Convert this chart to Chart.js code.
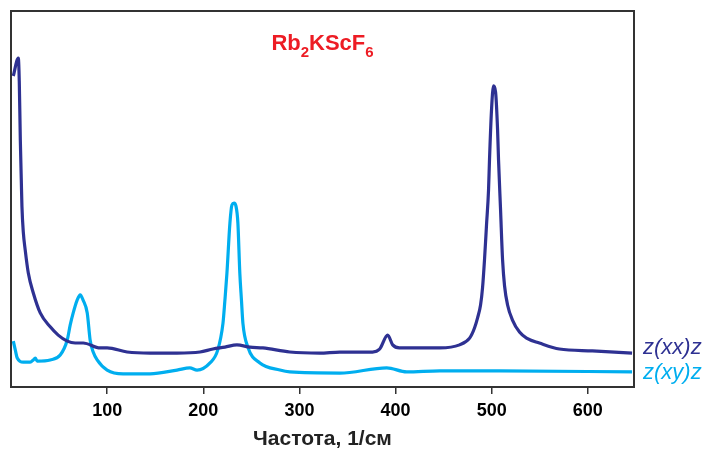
<!DOCTYPE html>
<html>
<head>
<meta charset="utf-8">
<script src="https://cdn.jsdelivr.net/npm/chart.js@4"></script>
<style>
  body { margin: 0; background: #fff; }
</style>
</head>
<body>
<canvas id="ramanChart" width="704" height="452"></canvas>
<script>
// Raman spectrum Rb2KScF6, two polarisations (intensity in arbitrary units 0..100)
const xxShift = [2.4, 7.6, 8.6, 9.7, 10.7, 11.4, 12.8, 14.8, 18, 23.2, 30.4, 40.8, 49.1, 58.5, 66.8, 75.1, 92.7, 100, 120.8, 144.6, 172.7, 196.6, 210, 222.5, 235, 248.5, 262, 290, 321, 342, 376, 383.5, 391.8, 397, 404, 425, 446, 466.6, 477, 482.1, 485.3, 488.4, 490.5, 492.5, 494.6, 496.7, 497.7, 499.8, 501.9, 504, 506.1, 507.1, 509.2, 511.3, 513.4, 516.5, 521.6, 528.9, 536.2, 549.6, 570.4, 604.7, 646];
const xxIntensity = [82.7, 87.5, 81.4, 65.7, 55.1, 47.9, 41.2, 36.4, 30.3, 25.0, 19.7, 16.0, 13.8, 12.2, 11.7, 11.7, 10.4, 10.4, 9.3, 9.0, 9.0, 9.3, 10.1, 10.6, 11.2, 10.6, 10.4, 9.3, 9.0, 9.3, 9.3, 10.1, 13.8, 11.2, 10.4, 10.4, 10.4, 11.2, 13.0, 15.7, 18.4, 21.8, 26.5, 33.8, 43.1, 52.4, 60.4, 73.7, 80.1, 78.5, 68.4, 60.4, 47.1, 33.8, 26.8, 21.8, 17.8, 14.6, 13.0, 11.7, 10.1, 9.6, 9.0];

const xyShift = [2.4, 4.5, 6.5, 12.8, 20, 23.2, 25.2, 27.3, 40.8, 51.2, 58.5, 61.6, 64.7, 68.8, 72, 75, 79.3, 82.3, 85.5, 89.6, 100, 116.6, 144.6, 172.7, 186, 193.5, 207, 215, 220.5, 222.5, 224.6, 227.7, 229.8, 232, 234, 236, 238, 239.7, 241.2, 246.4, 258.9, 279.7, 290, 342, 390.8, 411.5, 446, 508, 646];
const xyIntensity = [12.2, 9.8, 7.7, 6.6, 6.6, 7.2, 7.7, 6.9, 7.2, 8.5, 12.5, 16.5, 19.7, 23.1, 24.5, 23.1, 19.7, 12.5, 9.3, 7.2, 4.5, 3.5, 3.5, 4.5, 5.1, 4.5, 6.4, 9.8, 17.0, 23.1, 30.3, 43.6, 48.4, 48.9, 48.1, 43.6, 30.3, 23.1, 17.0, 10.6, 6.4, 4.5, 4.0, 3.7, 5.1, 4.0, 4.3, 4.3, 4.0];

const xTicks = [100, 200, 300, 400, 500, 600];

const seriesLabels = ['z(xx)z', 'z(xy)z'];
const seriesColors = ['#2e3192', '#00aeef'];

const FONT = "'Liberation Sans', Arial, sans-serif";

function toPoints(xs, ys) {
    return xs.map((x, i) => ({ x: x, y: ys[i] }));
}

// frame, title with subscripts, series labels on the right
const decorations = {
    id: 'decorations',
    afterDraw(chart) {
        const ctx = chart.ctx;
        const area = chart.chartArea;
        const yScale = chart.scales.y;
        ctx.save();
        ctx.strokeStyle = '#333';
        ctx.lineWidth = 2;
        ctx.strokeRect(area.left, area.top, area.right - area.left, area.bottom - area.top);

        // title Rb2KScF6
        const parts = [['Rb', false], ['2', true], ['KScF', false], ['6', true]];
        const big = 'bold 22px ' + FONT;
        const small = 'bold 15px ' + FONT;
        let total = 0;
        parts.forEach(p => { ctx.font = p[1] ? small : big; total += ctx.measureText(p[0]).width; });
        let x = (area.left + area.right) / 2 - total / 2;
        ctx.fillStyle = '#ed1c24';
        ctx.textBaseline = 'alphabetic';
        ctx.textAlign = 'left';
        parts.forEach(p => {
            ctx.font = p[1] ? small : big;
            ctx.fillText(p[0], x, p[1] ? 57 : 50);
            x += ctx.measureText(p[0]).width;
        });

        // series labels
        ctx.font = 'italic 22px ' + FONT;
        ctx.textBaseline = 'middle';
        chart.data.datasets.forEach((ds, i) => {
            const last = ds.data[ds.data.length - 1];
            const y = yScale.getPixelForValue(last.y) + (i === 0 ? -5 : 1);
            ctx.fillStyle = seriesColors[i];
            ctx.fillText(seriesLabels[i], area.right + 9, y);
        });
        ctx.restore();
    }
};

new Chart(document.getElementById('ramanChart'), {
    type: 'line',
    data: {
        datasets: [{
            label: seriesLabels[0],
            data: toPoints(xxShift, xxIntensity),
            borderColor: seriesColors[0],
            borderWidth: 3.2,
            pointRadius: 0,
            cubicInterpolationMode: 'monotone'
        }, {
            label: seriesLabels[1],
            data: toPoints(xyShift, xyIntensity),
            borderColor: seriesColors[1],
            borderWidth: 3.2,
            pointRadius: 0,
            cubicInterpolationMode: 'monotone'
        }]
    },
    options: {
        responsive: false,
        animation: false,
        devicePixelRatio: 1,
        layout: { padding: { left: 11, top: 11, right: 70, bottom: 0 } },
        plugins: {
            legend: { display: false },
            tooltip: { enabled: false }
        },
        scales: {
            x: {
                type: 'linear',
                min: 0,
                max: 648,
                afterBuildTicks: (scale) => { scale.ticks = xTicks.map(v => ({ value: v })); },
                afterFit: (scale) => { scale.height = 65; },
                ticks: {
                    color: '#000',
                    font: { family: FONT, size: 18, weight: 'bold' },
                    padding: 6,
                    maxRotation: 0
                },
                grid: { drawOnChartArea: false, drawTicks: true, tickLength: 7, color: '#333', lineWidth: 1.5 },
                border: { color: '#333', width: 2 },
                title: {
                    display: true,
                    text: 'Частота, 1/см',
                    color: '#222',
                    font: { family: FONT, size: 21, weight: 'bold' },
                    padding: { top: 4, bottom: 0 }
                }
            },
            y: { display: false, min: 0, max: 100 }
        }
    },
    plugins: [decorations]
});
</script>
</body>
</html>
